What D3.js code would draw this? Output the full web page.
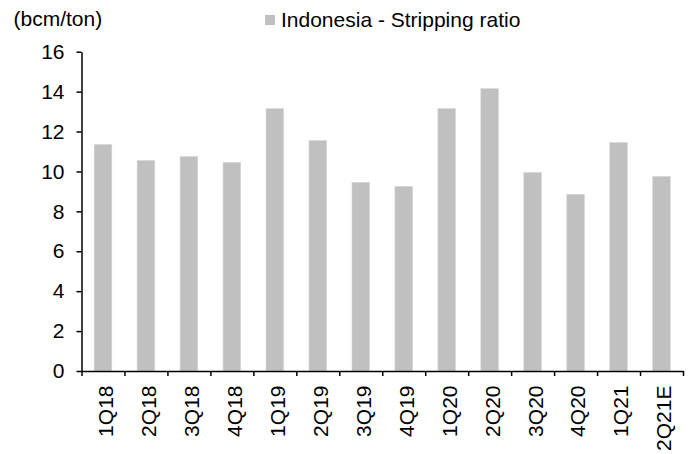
<!DOCTYPE html>
<html>
<head>
<meta charset="utf-8">
<script src="https://cdn.jsdelivr.net/npm/d3@7"></script>
<style>
  html, body { margin: 0; padding: 0; background: #fff; }
  svg { display: block; }
  text { font-family: "Liberation Sans", Arial, sans-serif; fill: #000; }
</style>
</head>
<body>
<svg id="chart" width="693" height="454"></svg>
<script>
const categories = ["1Q18","2Q18","3Q18","4Q18","1Q19","2Q19","3Q19","4Q19","1Q20","2Q20","3Q20","4Q20","1Q21","2Q21E"];
const strippingRatio = [11.35,10.55,10.75,10.45,13.15,11.55,9.45,9.25,13.15,14.15,9.95,8.85,11.45,9.75];
const yTicks = [0,2,4,6,8,10,12,14,16];
const seriesName = "Indonesia - Stripping ratio";
const unitLabel = "(bcm/ton)";

const svg = d3.select("#chart");
const plotLeft = 81.5, plotRight = 683, plotTop = 51.7, plotBottom = 371;
const fontSize = 21;

const x = d3.scaleBand().domain(categories).range([plotLeft, plotRight])
  .paddingInner(0.59).paddingOuter(0.295);
const xEdges = d3.scaleLinear().domain([0, categories.length]).range([plotLeft, plotRight]);
const y = d3.scaleLinear().domain([0, 16]).range([plotBottom, plotTop]);

// bars
svg.append("g").selectAll("rect").data(strippingRatio).join("rect")
  .attr("x", (d, i) => x(categories[i]))
  .attr("y", d => y(d))
  .attr("width", x.bandwidth())
  .attr("height", d => y(0) - y(d))
  .attr("fill", "#c0c0c0")
  .attr("stroke", "#d6d6d6")
  .attr("stroke-width", 0.6);

// y axis
const yAxis = svg.append("g").attr("transform", `translate(${plotLeft},0)`)
  .call(d3.axisLeft(y).tickValues(yTicks).tickSize(5).tickSizeOuter(0).tickPadding(12).tickFormat(d3.format("d")));
yAxis.selectAll("path,line").attr("stroke", "#000").attr("stroke-width", 1.5);
yAxis.selectAll("text").attr("font-size", fontSize).attr("font-family", '"Liberation Sans", Arial, sans-serif').attr("fill", "#000");

// x axis (ticks at band boundaries)
const xAxis = svg.append("g").attr("transform", `translate(0,${plotBottom})`)
  .call(d3.axisBottom(xEdges).tickValues(d3.range(categories.length + 1)).tickSize(5).tickSizeOuter(0).tickFormat(""));
xAxis.selectAll("path,line").attr("stroke", "#000").attr("stroke-width", 1.5);

// x labels rotated
svg.append("g").selectAll("text").data(categories).join("text")
  .attr("transform", d => `translate(${x(d) + x.bandwidth() / 2},385.5) rotate(-90)`)
  .attr("text-anchor", "end")
  .attr("dy", "0.47em")
  .attr("font-size", fontSize)
  .text(d => d);

// unit label
svg.append("text").attr("x", 13.5).attr("y", 25.5).attr("font-size", fontSize).text(unitLabel);

// legend
svg.append("rect").attr("x", 265).attr("y", 15).attr("width", 10).attr("height", 10).attr("fill", "#c0c0c0");
svg.append("text").attr("x", 281).attr("y", 27).attr("font-size", fontSize).text(seriesName);
</script>
</body>
</html>
